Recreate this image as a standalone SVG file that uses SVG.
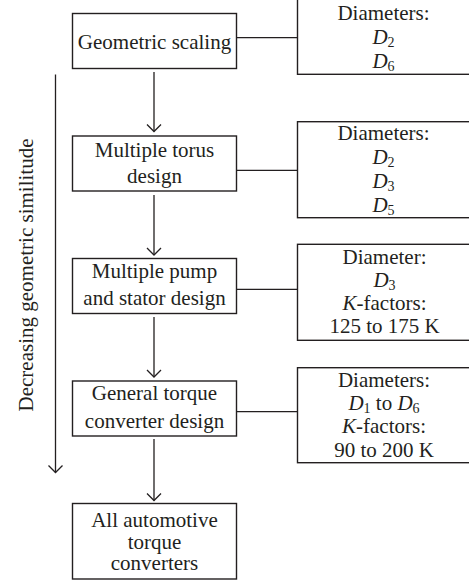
<svg xmlns="http://www.w3.org/2000/svg" width="469" height="584" viewBox="0 0 469 584">
<style>
.box{fill:#fff;stroke:#231f20;stroke-width:1.4}
.ln{fill:none;stroke:#231f20;stroke-width:1.3}
text{font-family:"Liberation Serif","Times New Roman",serif;font-size:21px;fill:#231f20;text-anchor:middle}
.i{font-style:italic}
.s{font-size:14px}
</style>
<defs>
<marker id="arr" markerWidth="16" markerHeight="16" refX="8" refY="8" orient="auto" markerUnits="userSpaceOnUse">
<path d="M1,1 L8,8 L1,15" fill="none" stroke="#231f20" stroke-width="1.3"/>
</marker>
</defs>
<rect width="469" height="584" fill="#fff"/>
<g id="connectors">
<line class="ln" x1="154" y1="72" x2="154" y2="131.5" marker-end="url(#arr)"/>
<line class="ln" x1="154" y1="195" x2="154" y2="255" marker-end="url(#arr)"/>
<line class="ln" x1="154" y1="317" x2="154" y2="377" marker-end="url(#arr)"/>
<line class="ln" x1="154" y1="439" x2="154" y2="500.5" marker-end="url(#arr)"/>
<line class="ln" x1="55.5" y1="74.5" x2="55.5" y2="472.5" marker-end="url(#arr)"/>
<line class="ln" x1="236.5" y1="37.7" x2="297.5" y2="37.7"/>
<line class="ln" x1="236.5" y1="170.3" x2="297.5" y2="170.3"/>
<line class="ln" x1="236.5" y1="289.3" x2="297.5" y2="289.3"/>
<line class="ln" x1="236.5" y1="411.7" x2="297.5" y2="411.7"/>
</g>
<g id="axis-label">
<text transform="translate(33,275) rotate(-90)">Decreasing geometric similitude</text>
</g>
<g id="n1">
<rect class="box" x="72.5" y="13.5" width="164" height="55"/>
<text x="154.5" y="49.3">Geometric scaling</text>
</g>
<g id="n2">
<rect class="box" x="72.5" y="136" width="164" height="55"/>
<text x="154.5" y="156.5">Multiple torus</text>
<text x="154.5" y="183">design</text>
</g>
<g id="n3">
<rect class="box" x="72.5" y="258.5" width="164" height="55"/>
<text x="154.5" y="278.3">Multiple pump</text>
<text x="154.5" y="305">and stator design</text>
</g>
<g id="n4">
<rect class="box" x="72.5" y="381" width="164" height="55"/>
<text x="154.5" y="400">General torque</text>
<text x="154.5" y="427.5">converter design</text>
</g>
<g id="n5">
<rect class="box" x="72.5" y="503.5" width="164" height="75.5"/>
<text x="154.5" y="527.3">All automotive</text>
<text x="154.5" y="548.8">torque</text>
<text x="154.5" y="570.3">converters</text>
</g>
<g id="r1">
<rect class="box" x="297.5" y="-1" width="180" height="75.3"/>
<text x="383.5" y="20">Diameters:</text>
<text x="383.5" y="44"><tspan class="i">D</tspan><tspan class="s" dy="3">2</tspan></text>
<text x="383.5" y="68"><tspan class="i">D</tspan><tspan class="s" dy="3">6</tspan></text>
</g>
<g id="r2">
<rect class="box" x="297.5" y="121.7" width="180" height="96"/>
<text x="383.5" y="140">Diameters:</text>
<text x="383.5" y="163.5"><tspan class="i">D</tspan><tspan class="s" dy="3">2</tspan></text>
<text x="383.5" y="187.5"><tspan class="i">D</tspan><tspan class="s" dy="3">3</tspan></text>
<text x="383.5" y="211.5"><tspan class="i">D</tspan><tspan class="s" dy="3">5</tspan></text>
</g>
<g id="r3">
<rect class="box" x="297.5" y="244.3" width="180" height="96"/>
<text x="384.5" y="263.5">Diameter:</text>
<text x="384.5" y="286.7"><tspan class="i">D</tspan><tspan class="s" dy="3">3</tspan></text>
<text x="384.5" y="310"><tspan class="i">K</tspan>-factors:</text>
<text x="384.5" y="333.3">125 to 175 K</text>
</g>
<g id="r4">
<rect class="box" x="297.5" y="367.7" width="180" height="95"/>
<text x="384" y="387.3">Diameters:</text>
<text x="384" y="410.3"><tspan class="i">D</tspan><tspan class="s" dy="3">1</tspan><tspan dy="-3"> to </tspan><tspan class="i">D</tspan><tspan class="s" dy="3">6</tspan></text>
<text x="384" y="433.3"><tspan class="i">K</tspan>-factors:</text>
<text x="384" y="456.5">90 to 200 K</text>
</g>
</svg>
